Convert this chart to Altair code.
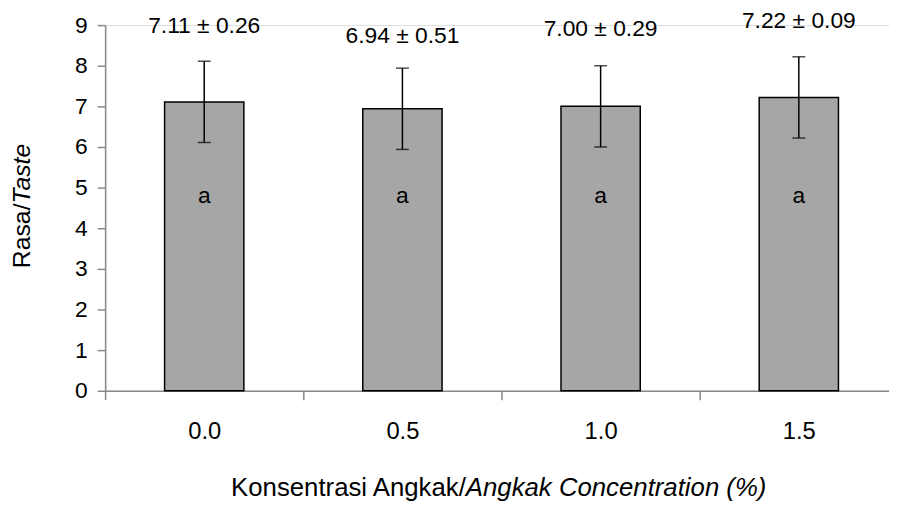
import altair as alt
import pandas as pd

# ---- data ----
concentrations = ["0.0", "0.5", "1.0", "1.5"]
means = [7.11, 6.94, 7.00, 7.22]
sds = [0.26, 0.51, 0.29, 0.09]
drawn_error = [1.0, 1.0, 1.0, 1.0]          # error bars as drawn in the figure
letters = ["a", "a", "a", "a"]
label_heights = [8.98, 8.74, 8.89, 9.11]    # y (data units) of the "mean ± sd" labels
letter_height = 4.8
y_ticks = list(range(0, 10))

df = pd.DataFrame({
    "conc": concentrations,
    "mean": means,
    "sd": sds,
    "lo": [m - e for m, e in zip(means, drawn_error)],
    "hi": [m + e for m, e in zip(means, drawn_error)],
    "label": [f"{m:.2f} ± {s:.2f}" for m, s in zip(means, sds)],
    "label_y": label_heights,
    "letter": letters,
    "letter_y": [letter_height] * len(concentrations),
})

FONT = "Liberation Sans"
W_VIEW = 791          # visible plot width (page is cut at the right edge)
W_RANGE = 800         # full band range (4 categories x 200 px)
STEP = W_RANGE / len(concentrations)

x_scale = alt.Scale(paddingInner=0.6, paddingOuter=0.3, range=[0, W_RANGE])
x_enc = alt.X(
    "conc:N",
    sort=concentrations,
    scale=x_scale,
    axis=alt.Axis(
        title=None, labelAngle=0, labelFontSize=24, labelPadding=20,
        tickSize=9, tickOffset=-STEP / 2, labelOffset=STEP / 2,
        domainWidth=1.5, tickWidth=1.5,
    ),
)
y_scale = alt.Scale(domain=[0, 9], nice=False, zero=True)

base = alt.Chart(df)

bars = base.mark_bar(color="#a6a6a6", stroke="black", strokeWidth=1.5).encode(
    x=x_enc,
    y=alt.Y(
        "mean:Q", scale=y_scale,
        axis=alt.Axis(
            title=None, values=y_ticks, labelFontSize=23, tickSize=8,
            labelPadding=10, domainWidth=1.5, tickWidth=1.5, grid=False,
        ),
    ),
)

xs = alt.X("conc:N", sort=concentrations, scale=x_scale)
err_rule = base.mark_rule(color="black", strokeWidth=1.5).encode(
    x=xs, y=alt.Y("lo:Q", scale=y_scale), y2="hi:Q"
)
cap_hi = base.mark_tick(color="black", thickness=1.5, size=13, orient="horizontal").encode(
    x=xs, y=alt.Y("hi:Q", scale=y_scale)
)
cap_lo = base.mark_tick(color="black", thickness=1.5, size=13, orient="horizontal").encode(
    x=xs, y=alt.Y("lo:Q", scale=y_scale)
)

labels = base.mark_text(font=FONT, fontSize=23, color="black", baseline="middle").encode(
    x=xs, y=alt.Y("label_y:Q", scale=y_scale), text="label:N"
)
letter_text = base.mark_text(font=FONT, fontSize=23, color="black", baseline="middle").encode(
    x=xs, y=alt.Y("letter_y:Q", scale=y_scale), text="letter:N"
)

# axis titles with mixed normal / italic parts
ytitle_a = alt.Chart(pd.DataFrame({"t": ["Rasa/"]})).mark_text(
    font=FONT, fontSize=25, angle=270, align="right", baseline="middle", color="black"
).encode(x=alt.value(-84), y=alt.value(180), text="t:N")
ytitle_b = alt.Chart(pd.DataFrame({"t": ["Taste"]})).mark_text(
    font=FONT, fontSize=25, angle=270, align="left", baseline="middle", color="black",
    fontStyle="italic",
).encode(x=alt.value(-84), y=alt.value(180), text="t:N")

xtitle_a = alt.Chart(pd.DataFrame({"t": ["Konsentrasi Angkak/"]})).mark_text(
    font=FONT, fontSize=26, align="right", baseline="middle", color="black"
).encode(x=alt.value(364), y=alt.value(467), text="t:N")
xtitle_b = alt.Chart(pd.DataFrame({"t": ["Angkak Concentration (%)"]})).mark_text(
    font=FONT, fontSize=26, align="left", baseline="middle", color="black", fontStyle="italic"
).encode(x=alt.value(364), y=alt.value(467), text="t:N")

chart = alt.layer(
    bars, err_rule, cap_hi, cap_lo, labels, letter_text,
    ytitle_a, ytitle_b, xtitle_a, xtitle_b,
).properties(
    width=W_VIEW, height=369,
    autosize=alt.AutoSizeParams(type="none"),
    padding={"left": 98, "top": 15, "right": 0, "bottom": 111},
).configure_view(stroke=None).configure_axis(
    labelFont=FONT, labelColor="black", domainColor="black", tickColor="black",
).configure(background="white")

chart.save("out.html", embed_options={"renderer": "svg", "actions": False})
